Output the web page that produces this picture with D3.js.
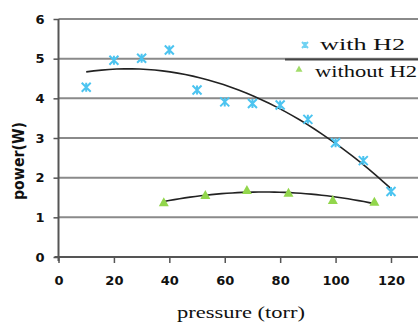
<!DOCTYPE html>
<html>
<head>
<meta charset="utf-8">
<script src="https://cdn.jsdelivr.net/npm/d3@7"></script>
<style>
  body { margin: 0; background: #fff; }
  svg { display: block; }
</style>
</head>
<body>
<div id="chart"></div>
<script>
// data
var pressureH2 = [10, 20, 30, 40, 50, 60, 70, 80, 90, 100, 110, 120];
var powerH2 = [4.28, 4.96, 5.01, 5.22, 4.21, 3.91, 3.87, 3.83, 3.47, 2.88, 2.43, 1.65];
var pressureNoH2 = [38, 53, 68, 83, 99, 114];
var powerNoH2 = [1.38, 1.56, 1.69, 1.62, 1.44, 1.39];
var xTicks = [0, 20, 40, 60, 80, 100, 120];
var yTicks = [0, 1, 2, 3, 4, 5, 6];
var seriesNames = ["with H2", "without H2"];

var W = 418, H = 324;

const svg = d3.select("#chart")
  .append("svg")
  .attr("width", W)
  .attr("height", H);

const x = d3.scaleLinear().domain([0, 130]).range([58.5, 418.7]);
const y = d3.scaleLinear().domain([0, 6]).range([257, 19]);

// gridlines
svg.append("g")
  .selectAll("line")
  .data(yTicks.filter(d => d > 0))
  .join("line")
  .attr("x1", x(0)).attr("x2", W)
  .attr("y1", d => y(d)).attr("y2", d => y(d))
  .attr("stroke", "#8a8a8a")
  .attr("stroke-width", 2);

// separator line under legend
svg.append("line")
  .attr("x1", 285).attr("x2", W)
  .attr("y1", 59.5).attr("y2", 59.5)
  .attr("stroke", "#444")
  .attr("stroke-width", 2.2);

// axes
const xAxis = svg.append("g")
  .attr("transform", `translate(0,${y(0)})`)
  .call(d3.axisBottom(x).tickValues(xTicks).tickSize(6).tickPadding(13).tickFormat(d3.format("d")));
const yAxis = svg.append("g")
  .attr("transform", `translate(${x(0)},0)`)
  .call(d3.axisLeft(y).tickValues(yTicks).tickSize(5).tickPadding(9).tickFormat(d3.format("d")));

[xAxis, yAxis].forEach(function (g) {
  g.select(".domain").attr("stroke", "#555").attr("stroke-width", 2);
  g.selectAll(".tick line").attr("stroke", "#555").attr("stroke-width", 1.5);
  g.selectAll(".tick text")
    .attr("fill", "#111")
    .style("font-family", "DejaVu Sans")
    .style("font-weight", "bold")
    .style("font-size", "13px");
});
yAxis.select(".domain").attr("d", `M0,${y(0) + 4}V${y(6)}`);
xAxis.select(".domain").attr("d", `M${x(0) - 4},0H${W}`);

// axis titles
svg.append("text")
  .attr("transform", "translate(24,161) rotate(-90)")
  .attr("text-anchor", "middle")
  .attr("textLength", 78)
  .attr("lengthAdjust", "spacingAndGlyphs")
  .style("font-family", "DejaVu Sans")
  .style("font-weight", "bold")
  .style("font-size", "15px")
  .attr("fill", "#111")
  .text("power(W)");

svg.append("text")
  .attr("x", 241).attr("y", 318)
  .attr("text-anchor", "middle")
  .attr("textLength", 128)
  .attr("lengthAdjust", "spacingAndGlyphs")
  .style("font-family", "Liberation Serif")
  .style("font-size", "17px")
  .attr("fill", "#111")
  .text("pressure (torr)");

// quadratic least-squares fit (Excel polynomial trendline)
function polyFit(xs, ys) {
  var n = xs.length, s = [0, 0, 0, 0, 0], t = [0, 0, 0];
  for (var i = 0; i < n; i++) {
    var p = 1;
    for (var k = 0; k < 5; k++) { s[k] += p; if (k < 3) t[k] += p * ys[i]; p *= xs[i]; }
  }
  var A = [[s[0], s[1], s[2], t[0]], [s[1], s[2], s[3], t[1]], [s[2], s[3], s[4], t[2]]];
  for (var c = 0; c < 3; c++) {
    for (var r = c + 1; r < 3; r++) {
      var f = A[r][c] / A[c][c];
      for (var j = c; j < 4; j++) A[r][j] -= f * A[c][j];
    }
  }
  var b = [0, 0, 0];
  for (var r2 = 2; r2 >= 0; r2--) {
    var v = A[r2][3];
    for (var j2 = r2 + 1; j2 < 3; j2++) v -= A[r2][j2] * b[j2];
    b[r2] = v / A[r2][r2];
  }
  return v2 => b[0] + b[1] * v2 + b[2] * v2 * v2;
}

function trend(xs, ys) {
  var f = polyFit(xs, ys);
  var lo = d3.min(xs), hi = d3.max(xs);
  var pts = d3.range(0, 41).map(i => lo + (hi - lo) * i / 40);
  svg.append("path")
    .datum(pts)
    .attr("fill", "none")
    .attr("stroke", "#222")
    .attr("stroke-width", 1.6)
    .attr("d", d3.line().x(d => x(d)).y(d => y(f(d))));
}

trend(pressureH2, powerH2);
trend(pressureNoH2, powerNoH2);

// markers
function star(g, cx, cy, r, color) {
  g.append("path")
    .attr("d", `M${cx - r},${cy - r}L${cx + r},${cy + r}M${cx - r},${cy + r}L${cx + r},${cy - r}M${cx},${cy - r}V${cy + r}`)
    .attr("stroke", color)
    .attr("stroke-width", 2)
    .attr("fill", "none");
}
function tri(g, cx, cy, r, color) {
  g.append("path")
    .attr("d", `M${cx},${cy - r}L${cx + r},${cy + r * 0.8}L${cx - r},${cy + r * 0.8}Z`)
    .attr("fill", color);
}

const marks = svg.append("g");
pressureH2.forEach(function (p, i) { star(marks, x(p), y(powerH2[i]), 4.5, "#4cc4f0"); });
pressureNoH2.forEach(function (p, i) { tri(marks, x(p), y(powerNoH2[i]), 5, "#92d64c"); });

// legend
const legend = svg.append("g");
star(legend, 305, 45, 3, "#6fd2f2");
tri(legend, 299, 69, 3.5, "#a2dc6a");
legend.selectAll("text")
  .data(seriesNames)
  .join("text")
  .attr("x", (d, i) => i === 0 ? 320 : 315)
  .attr("y", (d, i) => i === 0 ? 50 : 77)
  .attr("textLength", (d, i) => i === 0 ? 85 : 102)
  .attr("lengthAdjust", "spacingAndGlyphs")
  .style("font-family", "Liberation Serif")
  .style("font-size", "16px")
  .attr("fill", "#111")
  .text(d => d);
</script>
</body>
</html>
